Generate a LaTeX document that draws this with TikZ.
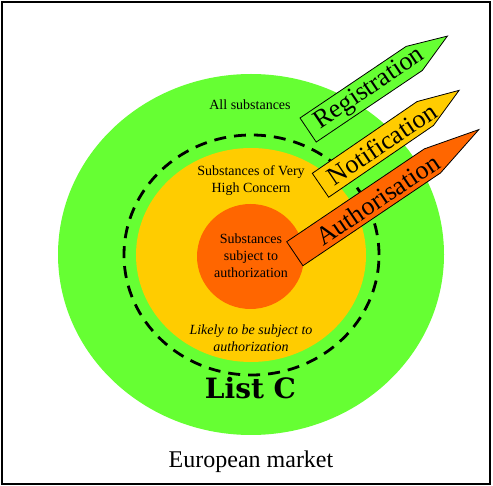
\documentclass[tikz,border=0pt]{standalone}
\usepackage{fontspec}
\setmainfont{Liberation Serif}
\newfontfamily\listfont{DejaVu Serif}
\definecolor{allgreen}{RGB}{102,255,51}
\definecolor{svhcyellow}{RGB}{255,204,0}
\definecolor{authorange}{RGB}{255,102,0}

\begin{document}
\begin{tikzpicture}[x=1pt,y=-1pt,
	zone/.style = {align=center,font=\fontsize{14}{17}\selectfont},
	tag/.style = {draw,line width=0.8pt,line join=miter},
	tagtext/.style = {rotate=34,font=\fontsize{26}{26}\selectfont}]
	\useasboundingbox (0,0) rectangle (493,486);
	\draw[line width=2pt] (2,2) rectangle (490,484);

	\fill[allgreen] (251,254.5) ellipse [x radius=193pt, y radius=180.5pt];
	\fill[svhcyellow] (251,255) ellipse [x radius=115pt, y radius=107pt];
	\draw[line width=2.8pt, dash pattern=on 12pt off 8pt] (251.5,255) ellipse [x radius=127.5pt, y radius=120pt];
	\fill[authorange] (250.5,256.5) ellipse [x radius=53.5pt, y radius=52.5pt];

	\node[zone] (all) at (250,105) {All substances};
	\node[zone] (svhc) at (251,180.5) {Substances of Very\\High Concern};
	\node[zone] (auth) at (251,256) {Substances\\subject to\\authorization};
	\node[zone,font=\fontsize{14}{17}\selectfont\itshape] (likely) at (251,338.5) {Likely to be subject to\\authorization};
	\node[font=\fontsize{28}{28}\listfont\bfseries] (listc) at (250.5,388) {List C};
	\node[font=\fontsize{24}{24}\selectfont] (market) at (251,462) {European market};

	\begin{scope}[shift={(300,118)},rotate=34]
		\draw[tag,fill=allgreen] (0,0) -- (128,0) -- (168,14.5) -- (128,29) -- (0,29) -- cycle;
		\node[tagtext] (registration) at (74,15) {Registration};
	\end{scope}
	\begin{scope}[shift={(312.3,173.3)},rotate=34.4]
		\draw[tag,fill=svhcyellow] (0,0) -- (127,0) -- (168,14.5) -- (127,29) -- (0,29) -- cycle;
		\node[tagtext] (notification) at (74,15) {Notification};
	\end{scope}
	\begin{scope}[shift={(286.7,241.7)},rotate=34]
		\draw[tag,fill=authorange] (0,0) -- (166,0) -- (222,14.5) -- (166,29) -- (0,29) -- cycle;
		\node[tagtext] (authorisation) at (99,16) {Authorisation};
	\end{scope}
\end{tikzpicture}
\end{document}
